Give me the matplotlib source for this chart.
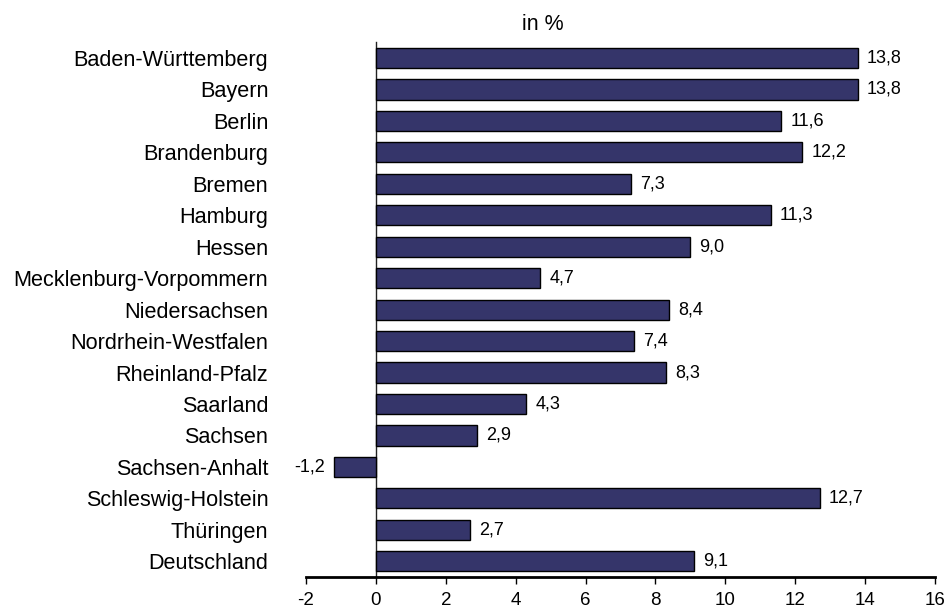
import matplotlib
matplotlib.use("Agg")
import matplotlib.pyplot as plt

plt.rcParams['font.family'] = ['Liberation Sans', 'DejaVu Sans']

categories = ["Baden-Württemberg", "Bayern", "Berlin", "Brandenburg", "Bremen",
              "Hamburg", "Hessen", "Mecklenburg-Vorpommern", "Niedersachsen",
              "Nordrhein-Westfalen", "Rheinland-Pfalz", "Saarland", "Sachsen",
              "Sachsen-Anhalt", "Schleswig-Holstein", "Thüringen", "Deutschland"]
values = [13.8, 13.8, 11.6, 12.2, 7.3, 11.3, 9.0, 4.7, 8.4, 7.4, 8.3, 4.3, 2.9,
          -1.2, 12.7, 2.7, 9.1]
xticks = [-2, 0, 2, 4, 6, 8, 10, 12, 14, 16]
unit_label = "in %"

fig = plt.figure(figsize=(9.44, 6.08), dpi=100)
ax = fig.add_axes([306/944, 1 - 577/608, 629/944, (577 - 42.3)/608])

for s in ['top', 'right']:
    ax.spines[s].set_visible(False)
ax.spines['left'].set_position(('data', 0))
ax.spines['left'].set_linewidth(1.0)
ax.spines['left'].set_color('#222222')
ax.spines['bottom'].set_linewidth(2.0)

ypos = list(range(len(categories)))
ax.barh(ypos, values, height=0.64, color="#35356A", edgecolor="black", linewidth=1.0, zorder=3)

ax.set_ylim(len(categories) - 0.5, -0.5)
ax.set_xlim(-2, 16)
ax.set_xticks(xticks)
ax.set_xticklabels([str(t) for t in xticks], fontsize=13.5)
ax.set_yticks(ypos)
ax.set_yticklabels(categories, fontsize=15.6)
ax.tick_params(axis='y', length=0, pad=77.5)
ax.tick_params(axis='x', direction='out', length=5, width=1, pad=6)

for y, v in zip(ypos, values):
    txt = f"{v:.1f}".replace('.', ',')
    if v >= 0:
        ax.annotate(txt, (v, y), xytext=(9, 0), textcoords='offset pixels',
                    ha='left', va='center', fontsize=13)
    else:
        ax.annotate(txt, (v, y), xytext=(-9, 0), textcoords='offset pixels',
                    ha='right', va='center', fontsize=13)

fig.text(543/944, 1 - 24/608, unit_label, ha='center', va='center', fontsize=15.5)

fig.savefig("out.png", dpi=100)
